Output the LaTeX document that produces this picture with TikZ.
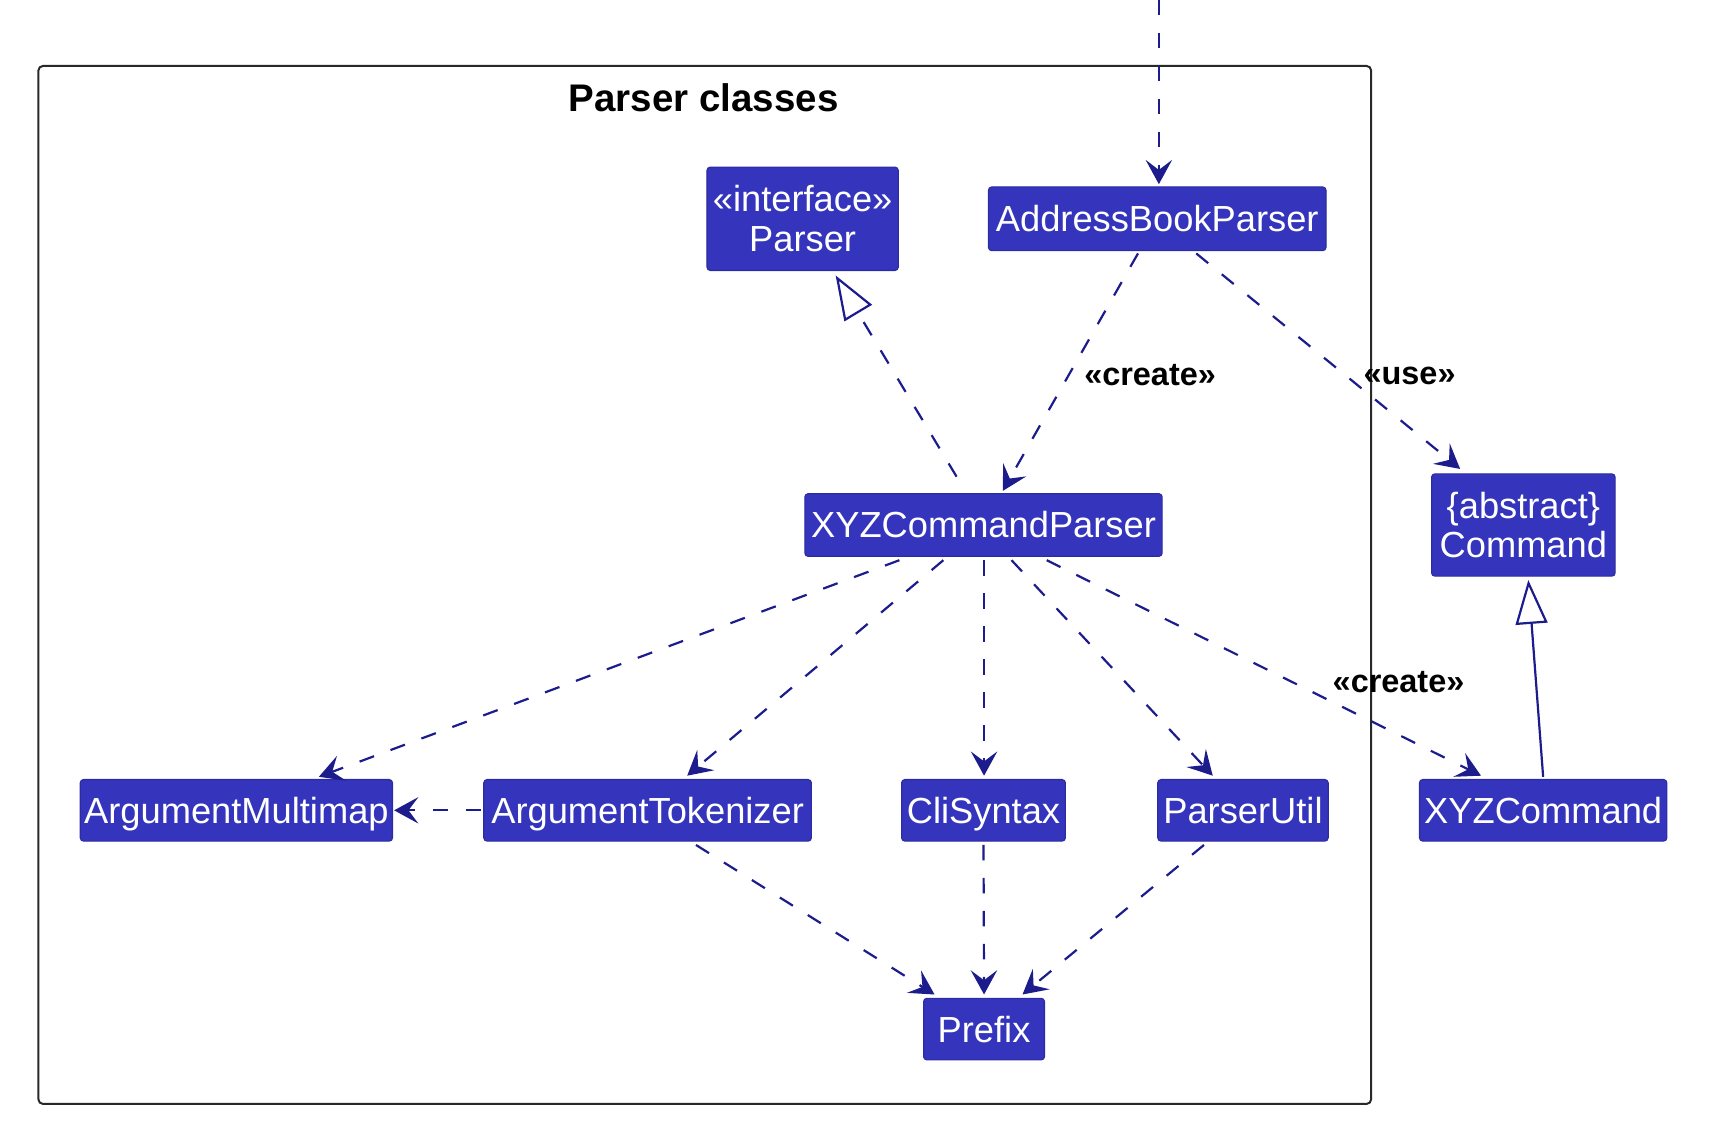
\documentclass[tikz,border=0pt]{standalone}
\usepackage{fontspec}
\setmainfont{Liberation Sans}
\usetikzlibrary{arrows.meta,calc}
\definecolor{boxfill}{RGB}{52,52,188}
\definecolor{edgecol}{RGB}{28,28,140}
\definecolor{framecol}{RGB}{40,40,40}
\begin{document}
\begin{tikzpicture}[x=1pt,y=-1pt,
  cls/.style={fill=boxfill,draw=boxfill!85!black,line width=1pt,rounded corners=3pt,text=white,
    font=\fontsize{33}{36}\selectfont,inner sep=0pt,align=center},
  one/.style={text height=23.6pt,text depth=0pt},
  dep/.style={draw=edgecol,line width=2pt,dash pattern=on 14pt off 16pt,
    -{Stealth[length=22pt,width=24pt,inset=9pt]}},
  realize/.style={draw=edgecol,line width=2pt,dash pattern=on 14pt off 16pt,
    -{Triangle[open,length=40pt,width=29pt,line width=2pt]}},
  extend/.style={draw=edgecol,line width=2pt,
    -{Triangle[open,length=40pt,width=29pt,line width=2pt]}},
  lbl/.style={font=\bfseries\fontsize{29.5}{32}\selectfont,text=black,inner sep=0pt},
  frametitle/.style={font=\bfseries\fontsize{35}{38}\selectfont,text=black,inner sep=0pt}
]
\useasboundingbox (0,0) rectangle (1568,1044);
% package frame
\draw[framecol,line width=1.8pt,rounded corners=4pt] (35,60) rectangle (1247,1004);
\node[frametitle] (title) at (640,89) {Parser classes};

% classes
\node[cls,minimum width=174pt,minimum height=94pt] (parser) at (730,199) {«interface»\\Parser};
\node[cls,one,minimum width=307pt,minimum height=58pt] (abp) at (1052.5,199) {AddressBookParser};
\node[cls,one,minimum width=325pt,minimum height=57pt] (xyzp) at (894.5,477.5) {XYZCommandParser};
\node[cls,minimum width=167pt,minimum height=93pt] (cmd) at (1385.5,477.5) {\{abstract\}\\Command};
\node[cls,one,minimum width=284pt,minimum height=56pt] (amm) at (215,737) {ArgumentMultimap};
\node[cls,one,minimum width=298pt,minimum height=56pt] (atk) at (589,737) {ArgumentTokenizer};
\node[cls,one,minimum width=149pt,minimum height=56pt] (cli) at (894.5,737) {CliSyntax};
\node[cls,one,minimum width=155pt,minimum height=56pt] (pu) at (1130.5,737) {ParserUtil};
\node[cls,one,minimum width=225pt,minimum height=56pt] (xyzc) at (1403.5,737) {XYZCommand};
\node[cls,one,minimum width=110pt,minimum height=56pt] (prefix) at (895,936) {Prefix};

\coordinate (top) at (1054,0);

% connectors
\draw[dep] (top) -- ([xshift=1.5pt,yshift=2pt]abp.north);
\draw[realize] ([xshift=-24.5pt,yshift=15pt]xyzp.north) -- ([xshift=30pt,yshift=-4pt]parser.south);
\draw[dep] ([xshift=-17.5pt,yshift=-2pt]abp.south) -- ([xshift=17.5pt,yshift=2pt]xyzp.north);
\node[lbl] (lcreate1) at (1046,341) {«create»};
\draw[dep] ([xshift=35.5pt,yshift=-2pt]abp.south) -- ([xshift=-57.5pt,yshift=4pt]cmd.north);
\node[lbl] (luse) at (1282,342) {«use»};
\draw[dep] ([xshift=-76.5pt,yshift=-3pt]xyzp.south) -- ([xshift=75pt,yshift=2pt]amm.north);
\draw[dep] ([xshift=-36.5pt,yshift=-3pt]xyzp.south) -- ([xshift=36pt,yshift=3pt]atk.north);
\draw[dep] ([xshift=0.5pt,yshift=-3pt]xyzp.south) -- ([xshift=0.5pt,yshift=3pt]cli.north);
\draw[dep] ([xshift=25.5pt,yshift=-3pt]xyzp.south) -- ([xshift=-27.5pt,yshift=3pt]pu.north);
\draw[dep] ([xshift=57.5pt,yshift=-3pt]xyzp.south) -- ([xshift=-56.5pt,yshift=3pt]xyzc.north);
\node[lbl] (lcreate2) at (1272,620) {«create»};
\draw[extend] ([yshift=2pt]xyzc.north) -- ([xshift=4.5pt,yshift=-3pt]cmd.south);
\draw[dep] ([xshift=-2pt]atk.west) -- ([xshift=1pt]amm.east);
\draw[dep] ([xshift=44pt,yshift=-3pt]atk.south) -- ([xshift=-45pt,yshift=3pt]prefix.north);
\draw[dep] ([yshift=-3pt]cli.south) -- ([yshift=3pt]prefix.north);
\draw[dep] ([xshift=-35.5pt,yshift=-3pt]pu.south) -- ([xshift=35pt,yshift=3pt]prefix.north);
\end{tikzpicture}
\end{document}
